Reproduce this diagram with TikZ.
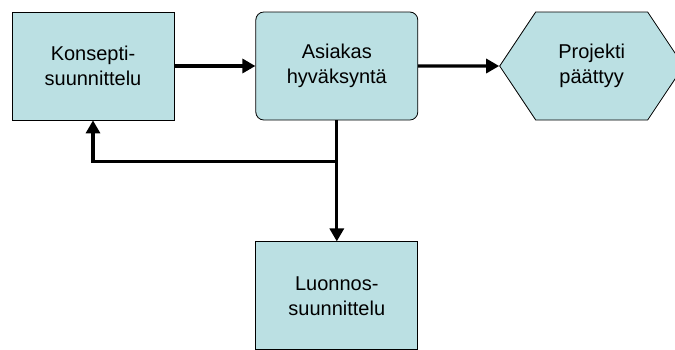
\documentclass[tikz,border=0pt]{standalone}
\usepackage{fontspec}
\setmainfont{Liberation Sans}
\usetikzlibrary{positioning,arrows.meta,shapes.symbols}
\definecolor{vaihevari}{RGB}{187,224,227}

\begin{document}
\begin{tikzpicture}[
	vaihe/.style={draw, line width=0.8pt, fill=vaihevari, minimum width=162pt, minimum height=108pt,
		inner sep=0pt, align=center, font=\fontsize{20}{25}\selectfont},
	pyorea/.style={vaihe, rounded corners=8pt},
	kuusikulmio/.style={vaihe, signal, signal to=west and east, signal pointer angle=112.6, minimum width=184pt},
	nuoli/.style={line width=3.2pt, -{Triangle[length=13pt,width=14pt]}}
	]
	\useasboundingbox (0,0) rectangle (675pt,-349pt);
	\node[vaihe] (konsepti) at (93pt,-66pt) {Konsepti-\\suunnittelu};
	\node[pyorea, right=81pt of konsepti] (asiakas) {Asiakas\\hyväksyntä};
	\node[kuusikulmio, right=81pt of asiakas] (projekti) {Projekti\\päättyy};
	\node[vaihe, below=121pt of asiakas] (luonnos) {Luonnos-\\suunnittelu};
	\coordinate[below=41pt of asiakas.south] (haara);

	\draw[nuoli] (konsepti) -- (asiakas);
	\draw[nuoli] (asiakas) -- (projekti);
	\draw[nuoli] (asiakas.south) -- (luonnos.north);
	\draw[nuoli] (haara) -| (konsepti.south);
\end{tikzpicture}
\end{document}
